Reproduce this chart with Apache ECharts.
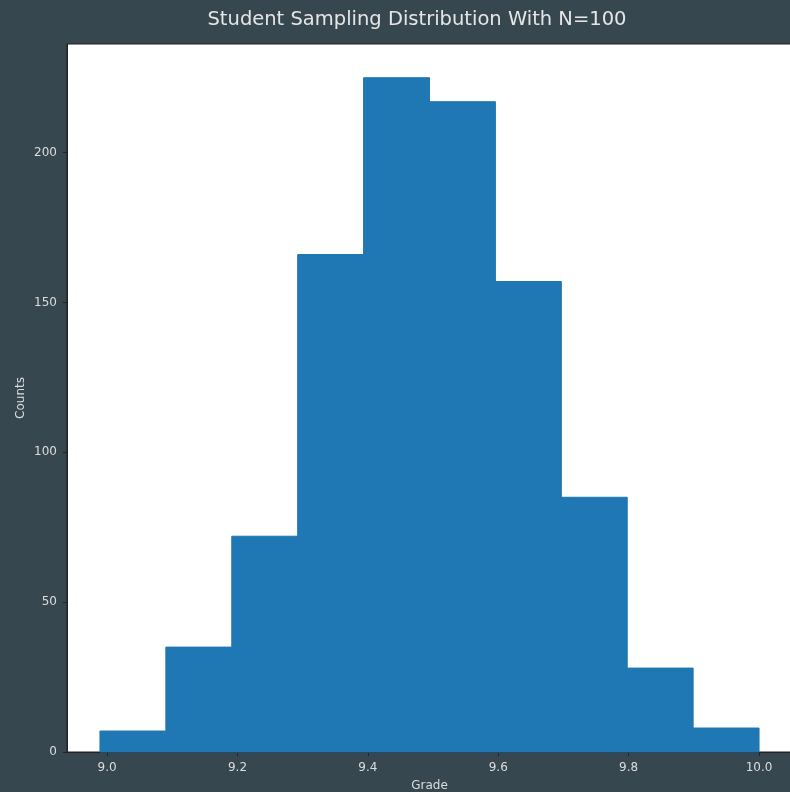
<!DOCTYPE html>
<html>
<head>
<meta charset="utf-8">
<script src="https://cdn.jsdelivr.net/npm/echarts@6/dist/echarts.min.js"></script>
<style>
html,body{margin:0;padding:0;background:#37474f;}
#chart{width:790px;height:792px;}
</style>
</head>
<body>
<div id="chart"></div>
<script>
// Histogram bin edges (Grade) and counts
var binEdges = [8.989, 9.0901, 9.1912, 9.2923, 9.3934, 9.4945, 9.5956, 9.6967, 9.7978, 9.8989, 10.0];
var counts = [7, 35, 72, 166, 225, 217, 157, 85, 28, 8];
var xTicks = [9.0, 9.2, 9.4, 9.6, 9.8, 10.0];
var yTicks = [0, 50, 100, 150, 200];
var titleText = 'Student Sampling Distribution With N=100';

var data = counts.map(function (c, i) { return [binEdges[i], binEdges[i + 1], c]; });
var xMin = binEdges[0] - 0.05 * (binEdges[10] - binEdges[0]);
var xMax = binEdges[10] + 0.05 * (binEdges[10] - binEdges[0]);
var yMax = Math.max.apply(null, counts) * 1.05;

var chart = echarts.init(document.getElementById('chart'), null, {renderer: 'canvas'});
var font = 'DejaVu Sans';
chart.setOption({
  backgroundColor: '#37474f',
  animation: false,
  title: {
    text: titleText,
    left: 412, top: 5, textAlign: 'center',
    textStyle: {color: '#e6e6e6', fontFamily: font, fontSize: 19.5, fontWeight: 'normal'}
  },
  grid: {left: 67, top: 44, width: 725, height: 708, outerBoundsMode: 'none', containLabel: false,
    show: true, backgroundColor: '#ffffff', borderColor: '#222', borderWidth: 1},
  xAxis: {
    type: 'value', min: xMin, max: xMax,
    name: 'Grade', nameLocation: 'middle', nameGap: 28, nameMoveOverlap: false,
    nameTextStyle: {color: '#dddddd', fontFamily: font, fontSize: 12},
    axisLine: {show: true, onZero: false, lineStyle: {color: '#222', width: 1}},
    axisTick: {show: true, length: 4, customValues: xTicks, lineStyle: {color: '#222'}},
    axisLabel: {color: '#dddddd', fontFamily: font, fontSize: 12, margin: 10, customValues: xTicks,
      formatter: function (v) { return v.toFixed(1); }},
    splitLine: {show: false}
  },
  yAxis: {
    type: 'value', min: 0, max: yMax,
    name: 'Counts', nameLocation: 'middle', nameGap: 40, nameRotate: 90, nameMoveOverlap: false,
    nameTextStyle: {color: '#dddddd', fontFamily: font, fontSize: 12},
    axisLine: {show: true, lineStyle: {color: '#222', width: 1}},
    axisTick: {show: true, length: 4, customValues: yTicks, lineStyle: {color: '#222'}},
    axisLabel: {color: '#dddddd', fontFamily: font, fontSize: 12, margin: 10, customValues: yTicks},
    splitLine: {show: false}
  },
  series: [{
    type: 'custom',
    data: data,
    encode: {x: [0, 1], y: 2},
    renderItem: function (params, api) {
      var p0 = api.coord([api.value(0), api.value(2)]);
      var p1 = api.coord([api.value(1), 0]);
      return {
        type: 'rect',
        shape: {x: p0[0], y: p0[1], width: p1[0] - p0[0], height: p1[1] - p0[1]},
        style: {fill: '#1f77b4', stroke: '#1f77b4', lineWidth: 1}
      };
    }
  }]
});
</script>
</body>
</html>
